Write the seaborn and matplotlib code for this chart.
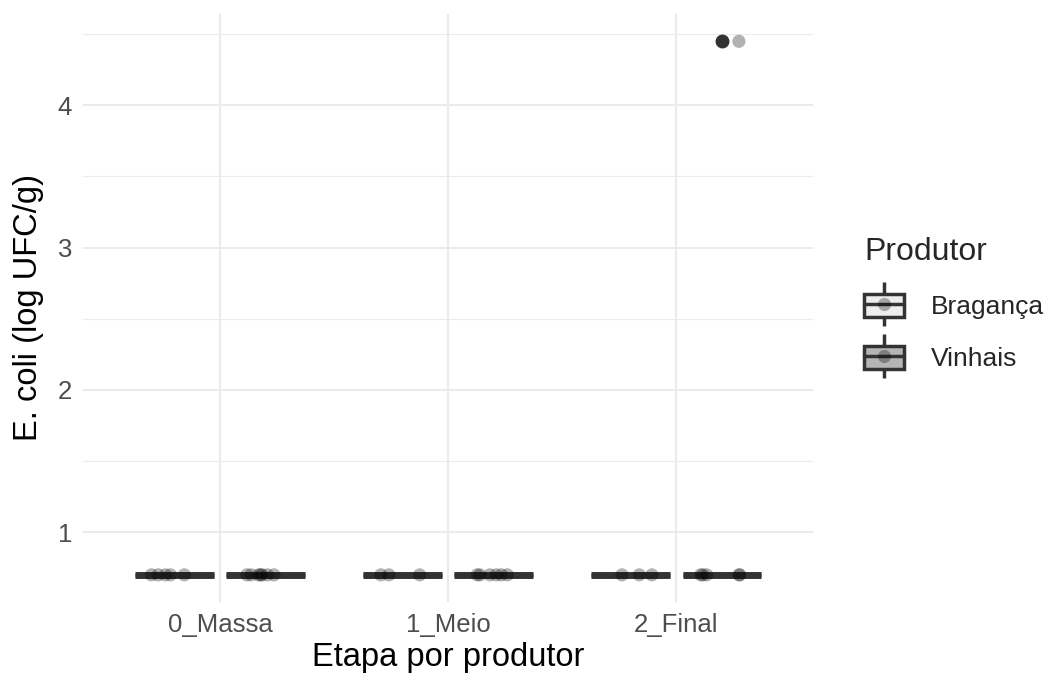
import matplotlib
matplotlib.use("Agg")

import numpy as np
import pandas as pd
import matplotlib.pyplot as plt
import seaborn as sns
from matplotlib.patches import Patch
from matplotlib.lines import Line2D
from matplotlib.legend_handler import HandlerTuple
from matplotlib.ticker import MultipleLocator

etapas = ["0_Massa", "1_Meio", "2_Final"]
produtores = ["Bragança", "Vinhais"]

# E. coli (log UFC/g) per stage and producer
valores = {
    ("0_Massa", "Bragança"): [0.699, 0.699, 0.699, 0.699, 0.699],
    ("0_Massa", "Vinhais"): [0.699, 0.699, 0.699, 0.699, 0.699, 0.699, 0.699],
    ("1_Meio", "Bragança"): [0.699, 0.699, 0.699],
    ("1_Meio", "Vinhais"): [0.699, 0.699, 0.699, 0.699, 0.699, 0.699],
    ("2_Final", "Bragança"): [0.699, 0.699, 0.699],
    ("2_Final", "Vinhais"): [4.45, 0.699, 0.699, 0.699, 0.699, 0.699],
}
fill_cores = ["#ededed", "#b5b5b5"]

rows = []
for (etapa, prod), vals in valores.items():
    for v in vals:
        rows.append({"Etapa": etapa, "Produtor": prod, "Ecoli": v})
df = pd.DataFrame(rows)

sns.set_theme(style="white")
plt.rcParams["font.family"] = ["Liberation Sans", "DejaVu Sans"]

fig = plt.figure(figsize=(10.47, 6.8), dpi=100)
ax = fig.add_axes([0.0793, 0.1153, 0.6972, 0.8637])

line_col = "#333333"
sns.boxplot(
    data=df, x="Etapa", y="Ecoli", hue="Produtor", order=etapas, hue_order=produtores,
    palette=fill_cores, width=0.8, gap=0.14, linewidth=2.5, linecolor=line_col,
    showcaps=False, whis=1.5,
    medianprops={"linewidth": 5.0, "color": line_col},
    flierprops={"marker": "o", "markerfacecolor": line_col, "markeredgecolor": line_col,
                "markersize": 9},
    legend=False, ax=ax,
)

np.random.seed(1)
sns.stripplot(
    data=df, x="Etapa", y="Ecoli", hue="Produtor", order=etapas, hue_order=produtores,
    palette=["black", "black"], dodge=True, jitter=0.2, size=9.5, alpha=0.3,
    linewidth=0, legend=False, ax=ax, zorder=5,
)

ax.set_xlim(-0.6, 2.6)
ax.set_ylim(0.511, 4.64)
ax.yaxis.set_major_locator(MultipleLocator(1))
ax.yaxis.set_minor_locator(MultipleLocator(0.5))
ax.grid(True, which="major", color="#ebebeb", linewidth=1.5, zorder=0)
ax.grid(True, which="minor", axis="y", color="#ebebeb", linewidth=0.8, zorder=0)
ax.set_axisbelow(True)
for s in ax.spines.values():
    s.set_visible(False)
ax.tick_params(axis="both", which="both", length=0, labelsize=18.5, labelcolor="#4d4d4d", pad=8)
ax.set_xlabel("Etapa por produtor", fontsize=23.5, color="black", labelpad=4)
ax.set_ylabel("E. coli (log UFC/g)", fontsize=23.5, color="black", labelpad=10)

handles = []
for cor in fill_cores:
    whisker = Line2D([], [], linestyle="none", marker="|", markersize=32,
                     markeredgewidth=2.5, color=line_col)
    box = Patch(facecolor=cor, edgecolor=line_col, linewidth=2.5)
    med = Line2D([], [], color=line_col, linewidth=2.5)
    pt = Line2D([], [], linestyle="none", marker="o", color="black", alpha=0.3,
                markersize=9.5, markeredgewidth=0)
    handles.append((whisker, box, med, pt))

fig.legend(
    handles, produtores, title="Produtor", loc="upper left",
    bbox_to_anchor=(0.803, 0.686), frameon=False, fontsize=19, title_fontsize=23,
    handler_map={tuple: HandlerTuple(ndivide=1, pad=0)},
    handlelength=1.5, handleheight=0.96, labelspacing=1.0, handletextpad=1.0,
    alignment="left",
)

fig.savefig("out.png", dpi=100)
